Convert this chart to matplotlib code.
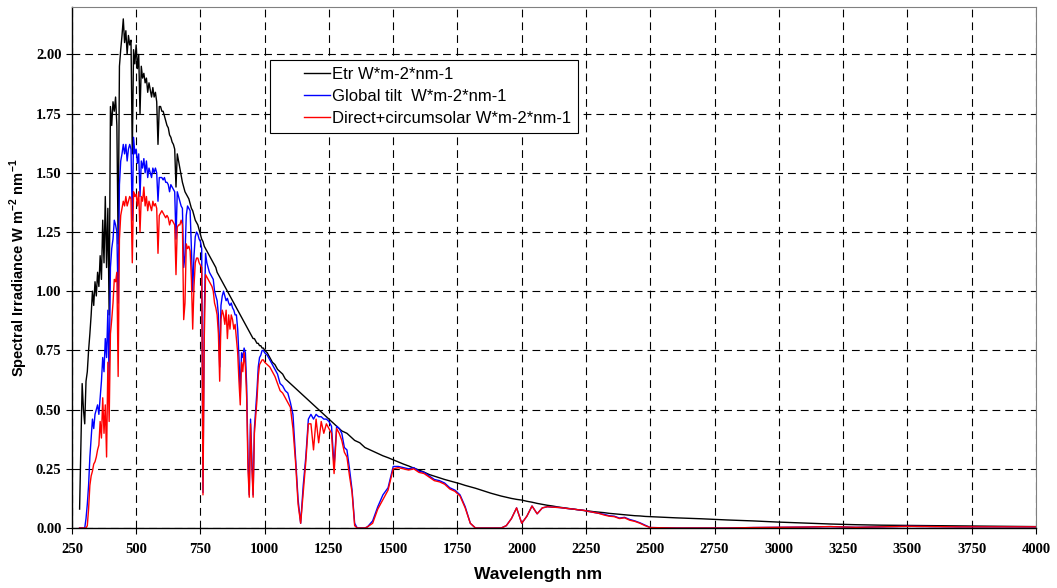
import numpy as np
import matplotlib
matplotlib.use("Agg")
import matplotlib.pyplot as plt
from matplotlib.legend_handler import HandlerLine2D

# ---- data (W m-2 nm-1) ----
# wavelength segments (nm)
wl_a = np.arange(280, 1001, 5)      # 145 points
wl_b = np.arange(1010, 1401, 10)    # 40 points
wl_c = np.arange(1420, 2501, 20)    # 55 points
wl_d = np.arange(2600, 4001, 100)   # 15 points

etr_a = [
    0.08, 0.35, 0.61, 0.50, 0.44, 0.62, 0.66, 0.75, 0.82, 0.90,
    1.00, 0.94, 1.04, 0.98, 1.08, 1.02, 1.15, 1.05, 1.30, 1.12,
    1.40, 1.10, 1.35, 0.90, 1.78, 1.70, 1.80, 1.76, 1.82, 1.70,
    1.20, 1.95, 2.02, 2.08, 2.15, 2.05, 2.10, 2.00, 2.08, 2.04,
    2.06, 1.58, 2.02, 1.96, 2.04, 1.94, 2.00, 1.75, 1.95, 1.90,
    1.92, 1.88, 1.90, 1.84, 1.88, 1.85, 1.82, 1.86, 1.82, 1.84,
    1.80, 1.62, 1.78, 1.78, 1.76, 1.76, 1.74, 1.72, 1.70, 1.69,
    1.66, 1.65, 1.63, 1.62, 1.60, 1.44, 1.58, 1.55, 1.52, 1.49,
    1.46, 1.44, 1.42, 1.41, 1.40, 1.39, 1.37, 1.35, 1.34, 1.32,
    1.30, 1.29, 1.28, 1.26, 1.24, 1.22, 1.21, 1.19, 1.18, 1.17,
    1.16, 1.15, 1.14, 1.13, 1.12, 1.11, 1.10, 1.08, 1.07, 1.06,
    1.05, 1.04, 1.03, 1.02, 1.01, 1.00, 0.99, 0.98, 0.97, 0.96,
    0.95, 0.94, 0.93, 0.92, 0.91, 0.90, 0.89, 0.88, 0.87, 0.86,
    0.85, 0.84, 0.83, 0.82, 0.81, 0.80, 0.80, 0.79, 0.78, 0.78,
    0.77, 0.77, 0.76, 0.76, 0.75,
]
glob_a = [
    0.00, 0.00, 0.00, 0.00, 0.00, 0.04, 0.10, 0.18, 0.30, 0.38,
    0.46, 0.42, 0.48, 0.50, 0.52, 0.48, 0.55, 0.62, 0.72, 0.66,
    0.80, 0.72, 0.92, 0.62, 1.10, 1.18, 1.22, 1.30, 1.28, 1.25,
    0.95, 1.45, 1.55, 1.58, 1.62, 1.58, 1.62, 1.55, 1.60, 1.62,
    1.60, 1.30, 1.65, 1.58, 1.60, 1.54, 1.58, 1.40, 1.55, 1.52,
    1.56, 1.50, 1.55, 1.48, 1.52, 1.50, 1.48, 1.52, 1.50, 1.52,
    1.50, 1.38, 1.48, 1.48, 1.48, 1.47, 1.48, 1.46, 1.46, 1.45,
    1.42, 1.45, 1.44, 1.43, 1.42, 1.22, 1.42, 1.40, 1.38, 1.36,
    1.35, 1.10, 1.15, 1.32, 1.36, 1.35, 1.34, 1.18, 1.00, 1.15,
    1.23, 1.25, 1.24, 1.22, 1.21, 1.18, 0.15, 0.90, 1.16, 1.12,
    1.10, 1.08, 1.07, 1.06, 1.05, 1.00, 0.98, 0.96, 0.90, 0.68,
    0.94, 0.98, 1.00, 0.98, 0.96, 0.97, 0.95, 0.94, 0.95, 0.93,
    0.92, 0.90, 0.90, 0.84, 0.72, 0.56, 0.74, 0.72, 0.76, 0.74,
    0.60, 0.30, 0.14, 0.46, 0.30, 0.14, 0.42, 0.50, 0.58, 0.68,
    0.72, 0.73, 0.75, 0.75, 0.74,
]
direct_a = [
    0.00, 0.00, 0.00, 0.00, 0.00, 0.00, 0.01, 0.08, 0.18, 0.22,
    0.24, 0.27, 0.28, 0.30, 0.33, 0.35, 0.45, 0.38, 0.55, 0.40,
    0.52, 0.30, 0.70, 0.45, 0.82, 0.88, 0.95, 1.05, 1.04, 1.08,
    0.64, 1.22, 1.32, 1.35, 1.38, 1.36, 1.40, 1.36, 1.38, 1.40,
    1.39, 1.12, 1.42, 1.40, 1.41, 1.36, 1.42, 1.25, 1.40, 1.38,
    1.44, 1.36, 1.40, 1.34, 1.38, 1.36, 1.34, 1.38, 1.36, 1.37,
    1.35, 1.16, 1.32, 1.33, 1.34, 1.33, 1.32, 1.31, 1.32, 1.31,
    1.28, 1.30, 1.30, 1.29, 1.28, 1.07, 1.27, 1.28, 1.28, 1.30,
    1.28, 0.88, 0.95, 1.20, 1.18, 1.19, 1.17, 1.05, 0.84, 1.02,
    1.12, 1.14, 1.14, 1.12, 1.11, 1.10, 0.14, 0.80, 1.07, 1.06,
    1.05, 1.04, 1.03, 1.02, 1.00, 0.95, 0.93, 0.90, 0.82, 0.62,
    0.88, 0.92, 0.90, 0.86, 0.92, 0.80, 0.90, 0.84, 0.90, 0.88,
    0.84, 0.86, 0.80, 0.74, 0.62, 0.52, 0.70, 0.66, 0.74, 0.68,
    0.55, 0.25, 0.13, 0.44, 0.26, 0.13, 0.40, 0.47, 0.54, 0.64,
    0.69, 0.70, 0.71, 0.71, 0.70,
]

etr_b = [
    0.74, 0.72, 0.70, 0.69, 0.67, 0.66, 0.65, 0.63, 0.62, 0.61,
    0.60, 0.59, 0.58, 0.57, 0.56, 0.55, 0.54, 0.53, 0.52, 0.51,
    0.50, 0.49, 0.48, 0.47, 0.46, 0.45, 0.44, 0.43, 0.42, 0.41,
    0.405, 0.40, 0.39, 0.38, 0.37, 0.365, 0.36, 0.35, 0.34, 0.335,
]
glob_b = [
    0.73, 0.71, 0.69, 0.67, 0.65, 0.61, 0.60, 0.58, 0.57, 0.53,
    0.48, 0.30, 0.12, 0.02, 0.18, 0.30, 0.46, 0.48, 0.46, 0.48,
    0.47, 0.47, 0.46, 0.46, 0.45, 0.43, 0.26, 0.43, 0.42, 0.40,
    0.34, 0.33, 0.25, 0.16, 0.02, 0.00, 0.00, 0.00, 0.00, 0.005,
]
direct_b = [
    0.69, 0.68, 0.66, 0.64, 0.61, 0.58, 0.57, 0.55, 0.53, 0.51,
    0.42, 0.28, 0.10, 0.02, 0.15, 0.28, 0.44, 0.44, 0.33, 0.46,
    0.36, 0.45, 0.40, 0.44, 0.42, 0.40, 0.23, 0.42, 0.40, 0.37,
    0.32, 0.30, 0.22, 0.15, 0.01, 0.00, 0.00, 0.00, 0.00, 0.005,
]

etr_c = [
    0.325, 0.315, 0.305, 0.297, 0.288, 0.279, 0.270, 0.262, 0.253, 0.245,
    0.236, 0.226, 0.219, 0.212, 0.205, 0.199, 0.193, 0.187, 0.180, 0.174,
    0.168, 0.161, 0.154, 0.147, 0.141, 0.135, 0.130, 0.125, 0.121, 0.118,
    0.113, 0.109, 0.104, 0.100, 0.096, 0.093, 0.089, 0.086, 0.083, 0.080,
    0.077, 0.074, 0.072, 0.069, 0.067, 0.065, 0.062, 0.060, 0.058, 0.056,
    0.054, 0.052, 0.051, 0.049, 0.048,
]
glob_c = [
    0.030, 0.090, 0.140, 0.170, 0.260, 0.260, 0.255, 0.250, 0.255, 0.240,
    0.235, 0.220, 0.205, 0.200, 0.190, 0.170, 0.160, 0.140, 0.090, 0.020,
    0.000, 0.000, 0.000, 0.000, 0.000, 0.000, 0.010, 0.040, 0.085, 0.020,
    0.050, 0.093, 0.060, 0.085, 0.090, 0.088, 0.087, 0.085, 0.082, 0.080,
    0.077, 0.075, 0.070, 0.066, 0.062, 0.058, 0.052, 0.050, 0.042, 0.045,
    0.036, 0.030, 0.022, 0.012, 0.002,
]
direct_c = [
    0.020, 0.080, 0.120, 0.160, 0.250, 0.255, 0.250, 0.245, 0.250, 0.235,
    0.230, 0.215, 0.200, 0.195, 0.185, 0.165, 0.155, 0.135, 0.085, 0.020,
    0.000, 0.000, 0.000, 0.000, 0.000, 0.000, 0.010, 0.040, 0.085, 0.020,
    0.050, 0.093, 0.060, 0.085, 0.090, 0.088, 0.087, 0.085, 0.082, 0.080,
    0.077, 0.075, 0.070, 0.066, 0.062, 0.055, 0.050, 0.048, 0.040, 0.043,
    0.033, 0.028, 0.020, 0.010, 0.002,
]

etr_d = [0.043, 0.039, 0.034, 0.030, 0.025, 0.021, 0.017, 0.014,
         0.012, 0.011, 0.010, 0.009, 0.008, 0.007, 0.006]
glob_d = [0.000, 0.000, 0.000, 0.002, 0.003, 0.004, 0.006, 0.003,
          0.005, 0.007, 0.006, 0.005, 0.005, 0.005, 0.005]
direct_d = [0.000, 0.000, 0.000, 0.002, 0.003, 0.004, 0.006, 0.003,
            0.005, 0.007, 0.006, 0.005, 0.005, 0.005, 0.005]

labels = ["Etr W*m-2*nm-1", "Global tilt  W*m-2*nm-1",
          "Direct+circumsolar W*m-2*nm-1"]
colors = ["black", "blue", "red"]

wl = np.concatenate([wl_a, wl_b, wl_c, wl_d])
etr = np.concatenate([etr_a, etr_b, etr_c, etr_d])
glob = np.concatenate([glob_a, glob_b, glob_c, glob_d])
direct = np.concatenate([direct_a, direct_b, direct_c, direct_d])


class RightLine(HandlerLine2D):
    # legend sample drawn only on the right half of the handle box
    def get_xdata(self, legend, xdescent, ydescent, width, height, fontsize):
        xd, xm = super().get_xdata(legend, xdescent, ydescent, width,
                                   height, fontsize)
        x1 = -xdescent + width
        return np.array([x1 - 0.5 * width, x1]), xm


plt.rcParams['mathtext.fontset'] = 'custom'
plt.rcParams['mathtext.rm'] = 'Liberation Sans'
plt.rcParams['mathtext.bf'] = 'Liberation Sans:bold'

fig = plt.figure(figsize=(10.57, 5.88), dpi=100)
ax = fig.add_axes([0.068, 0.102, 0.912, 0.886])

lines = []
for ys, c, lab in zip([etr, glob, direct], colors, labels):
    ln, = ax.plot(wl, ys, color=c, lw=1.0, label=lab)
    lines.append(ln)

ax.set_xlim(250, 4000)
ax.set_ylim(0, 2.2)
ax.set_xticks(np.arange(250, 4001, 250))
ax.set_yticks(np.arange(0, 2.01, 0.25))
ax.set_yticklabels([f"{v:.2f}" for v in np.arange(0, 2.01, 0.25)])
ax.grid(True, color='black', linestyle=(0, (7, 4.5)), linewidth=0.8)
ax.set_axisbelow(True)

for lab in ax.get_xticklabels() + ax.get_yticklabels():
    lab.set_family('Liberation Serif')
    lab.set_fontweight('bold')
    lab.set_fontsize(10.5)
ax.tick_params(direction='out', length=4, width=0.8)
ax.tick_params(axis='x', pad=7)

for s in ['top', 'right']:
    ax.spines[s].set_color('#808080')
    ax.spines[s].set_linewidth(0.8)
for s in ['left', 'bottom']:
    ax.spines[s].set_color('black')
    ax.spines[s].set_linewidth(1.0)

ax.set_xlabel("Wavelength nm", family='Liberation Sans', fontweight='bold',
              fontsize=12.5, labelpad=8)
ax.xaxis.label.set_x(0.484)
ax.set_ylabel(r"Spectral Irradiance W m$^{\mathbf{-2}}$ nm$^{\mathbf{-1}}$",
              family='Liberation Sans', fontweight='bold', fontsize=10.5,
              labelpad=4)

leg = ax.legend(lines, labels, loc='upper left',
                bbox_to_anchor=(0.206, 0.898),
                handler_map={ln: RightLine() for ln in lines},
                prop={'family': 'Liberation Sans', 'size': 12},
                fancybox=False, framealpha=1, edgecolor='black',
                handlelength=3.2, borderpad=0.4, labelspacing=0.42,
                handletextpad=0.1, borderaxespad=0)
leg.get_frame().set_linewidth(0.8)

plt.savefig("out.png", dpi=100)
